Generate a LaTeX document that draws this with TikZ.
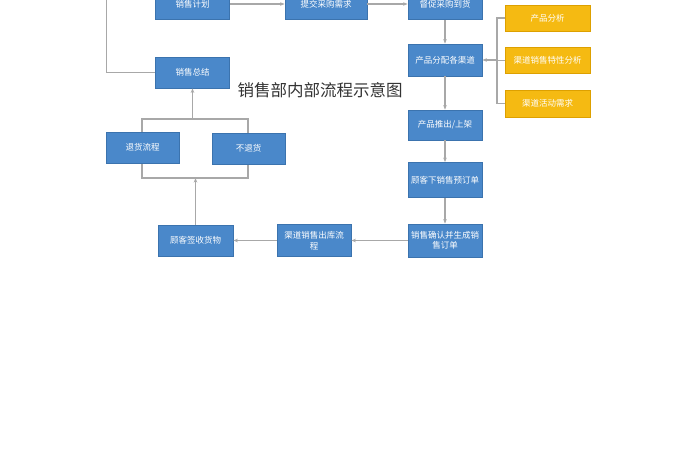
\documentclass[tikz,border=0pt]{standalone}
\usepackage{fontspec}
\newfontfamily\cjk{Noto Sans CJK SC}
\usetikzlibrary{arrows.meta}
\definecolor{bluefill}{HTML}{4A88CA}
\definecolor{blueline}{HTML}{3B73AE}
\definecolor{orfill}{HTML}{F5BA12}
\definecolor{orline}{HTML}{DDA000}
\definecolor{conn}{HTML}{A8A8A8}
\definecolor{titlec}{HTML}{333333}
\tikzset{
  bbox/.style={draw=blueline, fill=bluefill, text=white, line width=0.8pt,
    minimum width=74pt, minimum height=31pt, inner sep=1pt, align=center,
    font=\cjk\fontsize{8.5}{10.5}\selectfont},
  obox/.style={draw=orline, fill=orfill, text=white, line width=0.8pt,
    minimum width=85pt, minimum height=26pt, inner sep=1pt, align=center,
    font=\cjk\fontsize{8.5}{10.5}\selectfont},
  conline/.style={draw=conn, line width=1.1pt},
  arr/.style={conline, -{Stealth[length=4.5pt,width=3.5pt]}},
}
\begin{document}
\begin{tikzpicture}[x=1pt,y=-1pt]
\clip (0,0) rectangle (700,470);
\fill[white] (0,0) rectangle (700,470);
% nodes
\node[bbox] (jh) at (192.5,4) {销售计划};
\node[bbox, minimum width=82pt] (tj) at (326,4) {提交采购需求};
\node[bbox] (dc) at (445,4) {督促采购到货};
\node[bbox, minimum height=32pt] (fp) at (445,60) {产品分配各渠道};
\node[bbox] (zj) at (192.5,72.5) {销售总结};
\node[bbox, minimum height=30pt] (tc) at (445,125) {产品推出/上架};
\node[bbox, minimum height=35pt] (xd) at (445,180) {顾客下销售预订单};
\node[bbox, minimum height=33pt] (qr) at (445,240.5) {销售确认并生成销\\售订单};
\node[bbox, minimum height=32pt] (ck) at (314,240.5) {渠道销售出库流\\程};
\node[bbox, minimum width=75pt] (qs) at (195.5,240.5) {顾客签收货物};
\node[obox] (cp) at (547.5,18) {产品分析};
\node[obox] (qd) at (547.5,60.5) {渠道销售特性分析};
\node[obox, minimum height=27pt] (hd) at (547.5,103.5) {渠道活动需求};
\coordinate (bt1) at (142,119);
\coordinate (bt2) at (248,119);
\coordinate (bb1) at (142,178);
\coordinate (bb2) at (248,178);
\coordinate (oj) at (497,60);
% bracket behind return boxes
\draw[conline] (bt1) -- (bt2) -- (bb2) -- (bb1) -- cycle;
\node[bbox, minimum width=73pt] (th) at (142.5,147.5) {退货流程};
\node[bbox, minimum width=73pt] (bt) at (248.5,148.5) {不退货};
% connectors
\draw[arr] (jh) -- (tj);
\draw[arr] (tj) -- (dc);
\draw[arr] (dc) -- (fp);
\draw[arr] (fp) -- (tc);
\draw[arr] (tc) -- (xd);
\draw[arr] (xd) -- (qr);
\draw[arr] (qr) -- (ck);
\draw[arr] (ck) -- (qs);
\draw[arr] (qs.north) -- (qs.north |- bb1);
\draw[arr] (zj.south |- bt1) -- (zj.south);
\draw[arr] (zj.west) -- ++(-49,0) |- (192.5,-30) -- (jh.north);
\draw[conline] (cp.west) -| (oj) |- (hd.west);
\draw[conline] (qd.west) -- (qd.west -| oj);
\draw[arr] (oj) -- (fp.east);
% title
\node[font=\cjk\fontsize{16.5}{18}\selectfont, text=titlec] (title) at (320,90) {销售部内部流程示意图};
\end{tikzpicture}
\end{document}
